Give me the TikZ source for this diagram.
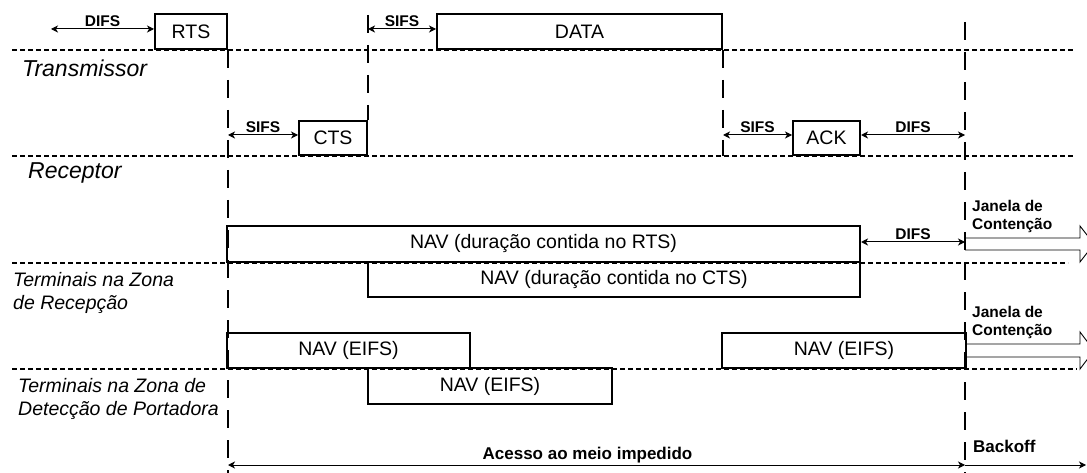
\documentclass[tikz,border=0pt]{standalone}
\usepackage{fontspec}
\setmainfont{Liberation Sans}
\usetikzlibrary{arrows.meta,positioning,calc}

\begin{document}
\begin{tikzpicture}[x=1pt,y=-1pt,
    frame/.style={draw, rectangle, line width=2pt, inner sep=0pt, anchor=south west, font=\fontsize{19.5}{22}\selectfont},
    lane/.style={line width=1.4pt, dash pattern=on 5pt off 3pt},
    guide/.style={line width=2pt, dash pattern=on 18pt off 12pt},
    dim/.style={line width=1pt, {Stealth[length=7pt,width=7pt,inset=2pt]}-{Stealth[length=7pt,width=7pt,inset=2pt]}},
    tag/.style={font=\bfseries\fontsize{15.5}{18}\selectfont, inner sep=1.5pt},
    actor/.style={font=\itshape\fontsize{23}{26}\selectfont, anchor=west, inner sep=0pt},
    zone/.style={font=\itshape\fontsize{19.5}{23}\selectfont, anchor=north west, align=left, inner sep=0pt},
    window/.style={draw, line width=0.9pt}]
    \useasboundingbox (0,0) rectangle (1087,473);
    \clip (0,0) rectangle (1087,473);
    % lanes
    \draw[lane] (12,50) -- (1075,50);
    \draw[lane] (12,156) -- (1075,156);
    \draw[lane] (12,263) -- (1068,263);
    \draw[lane] (12,369) -- (1077,369);
    % frames
    \node[frame, minimum width=72pt, minimum height=35pt] (rts) at (154,50) {RTS};
    \node[frame, minimum width=285pt, minimum height=35pt] (data) at (436,50) {DATA};
    \node[frame, minimum width=68pt, minimum height=34pt] (cts) at (298,156) {CTS};
    \node[frame, minimum width=67pt, minimum height=34pt] (ack) at (792,156) {ACK};
    \node[frame, minimum width=633pt, minimum height=36pt] (navrts) at (226,263) {NAV (duração contida no RTS)};
    \node[frame, minimum width=492pt, minimum height=35pt] (navcts) at (367,298) {NAV (duração contida no CTS)};
    \node[frame, minimum width=243pt, minimum height=35pt] (eifsa) at (226,369) {NAV (EIFS)};
    \node[frame, minimum width=244pt, minimum height=36pt] (eifsb) at (367,405) {NAV (EIFS)};
    \node[frame, minimum width=244pt, minimum height=35pt] (eifsc) at (721,369) {NAV (EIFS)};
    % guides
    \coordinate (cw) at (965,22);
    \coordinate (bottom) at (0,473);
    \draw[guide] (rts.south east) -- (rts.south east |- bottom);
    \draw[guide] (cts.north east |- 0,15) -- (cts.north east);
    \draw[guide] (data.south east) -- (data.south east |- cts.south);
    \draw[guide] (cw) -- (cw |- bottom);
    % intervals
    \coordinate (txline) at (51,29);
    \coordinate (rxline) at (0,135);
    \draw[dim] (txline) -- node[tag, above] {DIFS} (txline -| rts.west);
    \draw[dim] (cts.east |- txline) -- node[tag, above] {SIFS} (data.west |- txline);
    \draw[dim] (rts.east |- rxline) -- node[tag, above] {SIFS} (cts.west |- rxline);
    \draw[dim] (data.east |- rxline) -- node[tag, above] {SIFS} (ack.west |- rxline);
    \draw[dim] (ack.east |- rxline) -- node[tag, above] {DIFS} (cw |- rxline);
    \draw[dim] (navrts.east |- 0,242) -- node[tag, above] {DIFS} (cw |- 0,242);
    \draw[dim] (rts.east |- 0,465) -- node[tag, above, xshift=-9pt, font=\bfseries\fontsize{17}{20}\selectfont] {Acesso ao meio impedido} (cw |- 0,465);
    \draw[line width=1pt, -{Stealth[length=7pt,width=7pt,inset=2pt]}] (cw |- 0,465) -- (1086,465);
    \node[tag, anchor=west, inner sep=0pt, font=\bfseries\fontsize{17}{20}\selectfont] (backoff) at (973,446) {Backoff};
    % contention windows
    \node[tag, anchor=north west, align=left, inner sep=0pt] (janela1) at (972,200) {Janela de\\Contenção};
    \node[tag, anchor=north west, align=left, inner sep=0pt] (janela2) at (972,306) {Janela de\\Contenção};
    \draw[window] (965,238) -- (1080,238) -- (1080,226) -- (1094,244) -- (1080,262) -- (1080,250) -- (965,250);
    \draw[window] (965,344) -- (1080,344) -- (1080,332) -- (1094,350.5) -- (1080,369) -- (1080,357) -- (965,357);
    % labels
    \node[actor] (tx) at (22,68) {Transmissor};
    \node[actor] (rx) at (28,173) {Receptor};
    \node[zone] (zrec) at (13,272) {Terminais na Zona\\de Recepção};
    \node[zone] (zdet) at (18,378) {Terminais na Zona de\\Detecção de Portadora};
\end{tikzpicture}
\end{document}
